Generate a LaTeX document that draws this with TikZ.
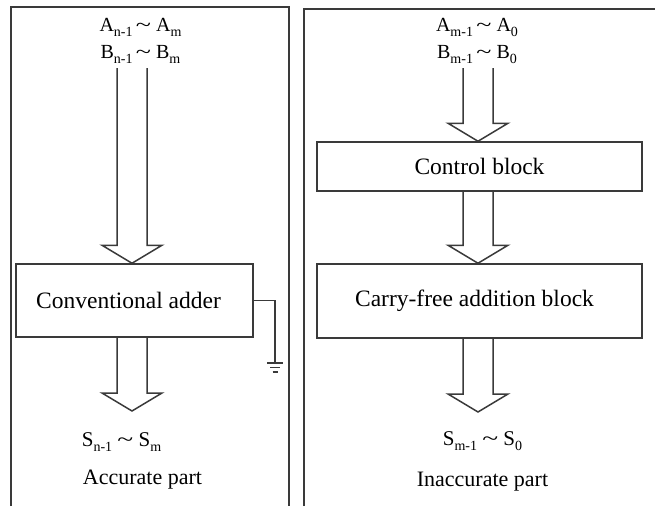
\documentclass[tikz,border=0pt]{standalone}
\usepackage{fontspec}
\setmainfont{Liberation Serif}
\usepackage{graphicx}
\usetikzlibrary{calc}
\definecolor{linegray}{HTML}{3A3A3A}
\newcommand\sbs[2][14]{\raisebox{-0.25em}{\fontsize{#1}{#1}\selectfont #2}}
\newcommand\tld{\scalebox{1.4}[1]{\textasciitilde}}
\newcommand\fatarrow[2]{\draw[arrowline] ($(#1)+(-15,0)$) -- ($(#2)+(-15,-18)$) -- ($(#2)+(-30,-18)$) -- (#2) -- ($(#2)+(30,-18)$) -- ($(#2)+(15,-18)$) -- ($(#1)+(15,0)$);}
\begin{document}
\begin{tikzpicture}[x=1pt,y=-1pt,
  frame/.style={draw=linegray,line width=1.4pt},
  arrowline/.style={draw=linegray,line width=1.5pt,line join=miter},
  wire/.style={draw=linegray,line width=1.4pt},
  block/.style={draw=linegray,line width=1.5pt,inner sep=0pt,font=\fontsize{23.5}{26}\selectfont},
  inlab/.style={anchor=base,inner sep=0pt,font=\fontsize{20}{22}\selectfont},
  outlab/.style={anchor=base,inner sep=0pt,font=\fontsize{21}{24}\selectfont},
  part/.style={anchor=base,inner sep=0pt,font=\fontsize{22}{24}\selectfont}]
\useasboundingbox (0,0) rectangle (655,506);
% panel frames
\draw[frame] (11,506) -- (11,7) -- (289,7) -- (289,506);
\draw[frame] (304,506) -- (304,9) -- (656,9);
% left panel
\node[inlab] (inLa) at (140.5,31) {A\sbs{n-1}\,\tld\ A\sbs{m}};
\node[inlab] (inLb) at (140.5,58) {B\sbs{n-1}\,\tld\ B\sbs{m}};
\node[block,minimum width=237pt,minimum height=73pt] (conv) at (134.5,300.5) {Conventional adder\hspace*{12pt}};
\coordinate (a1) at (132,68);
\coordinate (t1) at (a1 |- conv.north);
\fatarrow{a1}{t1}
\coordinate (a2) at (a1 |- conv.south);
\coordinate (t2) at (132,411);
\fatarrow{a2}{t2}
\coordinate (gnd) at (275,363);
\draw[wire] (conv.east) -| (gnd);
\draw[wire] ($(gnd)+(-8,0)$) -- ($(gnd)+(8,0)$);
\draw[wire] ($(gnd)+(-5,4.5)$) -- ($(gnd)+(5,4.5)$);
\draw[wire] ($(gnd)+(-2.5,9)$) -- ($(gnd)+(2.5,9)$);
\node[outlab] (outL) at (121.5,446) {S\sbs{n-1} \tld\ S\sbs{m}};
\node[part] (accL) at (142.5,484) {Accurate part};
% right panel
\node[inlab] (inRa) at (477,31) {A\sbs{m-1}\,\tld\ A\sbs{0}};
\node[inlab] (inRb) at (477,58) {B\sbs{m-1}\,\tld\ B\sbs{0}};
\node[block,minimum width=325pt,minimum height=49pt] (ctrl) at (479.5,166.5) {Control block};
\node[block,minimum width=325pt,minimum height=74pt] (carry) at (479.5,301) {Carry-free addition block\hspace*{10pt}};
\coordinate (b1) at (478,68);
\coordinate (u1) at (b1 |- ctrl.north);
\fatarrow{b1}{u1}
\coordinate (b2) at (b1 |- ctrl.south);
\coordinate (u2) at (b1 |- carry.north);
\fatarrow{b2}{u2}
\coordinate (b3) at (b1 |- carry.south);
\coordinate (u3) at (478,412);
\fatarrow{b3}{u3}
\node[outlab] (outR) at (482.5,445) {S\sbs{m-1} \tld\ S\sbs{0}};
\node[part] (accR) at (482.5,486) {Inaccurate part};
\end{tikzpicture}
\end{document}
